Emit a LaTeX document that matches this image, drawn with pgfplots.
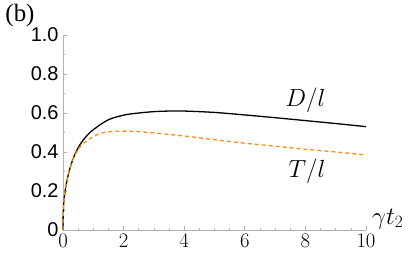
\documentclass[border=0pt]{standalone}
\usepackage{pgfplots}
\pgfplotsset{compat=1.18}
\usepackage{fontspec}
\setmainfont{Liberation Serif}
\newfontfamily\ticks{Liberation Sans}
\definecolor{axgray}{RGB}{178,178,178}
\definecolor{myorange}{RGB}{255,140,20}
\begin{document}
\begin{tikzpicture}[x=1bp,y=1bp]
\begin{axis}[
  scale only axis, width=303bp, height=195bp,
  xmin=0, xmax=10, ymin=0, ymax=1,
  axis lines*=left,
  axis line style={axgray, line width=0.8bp},
  xtick={0,2,...,10}, ytick={0,0.2,...,1.0},
  minor x tick num=3, minor y tick num=1,
  tick style={axgray, line width=0.6bp},
  major tick length=4bp, minor tick length=2.5bp,
  tick align=inside,
  yticklabels={0,0.2,0.4,0.6,0.8,1.0},
  xticklabel style={font=\ticks\fontsize{20}{20}\selectfont, yshift=-1bp},
  yticklabel style={font=\ticks\fontsize{20}{20}\selectfont, xshift=-1bp},
  clip=false,
]
\addplot[black, line width=1.3bp, smooth] coordinates {
(0,0) (0.005,0.07) (0.015,0.11) (0.03,0.15) (0.09,0.22) (0.2,0.30) (0.36,0.376) (0.59,0.445) (0.92,0.504) (1.48,0.564) (2.03,0.59) (2.5,0.60) (3,0.607) (3.5,0.61) (4,0.61) (5,0.603) (6,0.59) (7,0.576) (8,0.561) (9,0.546) (10,0.53)};
\addplot[myorange, line width=1.3bp, dash pattern=on 4bp off 3bp, smooth] coordinates {
(0,0) (0.005,0.07) (0.015,0.11) (0.03,0.15) (0.09,0.22) (0.2,0.30) (0.36,0.374) (0.59,0.432) (0.81,0.46) (1.14,0.49) (1.48,0.503) (2.03,0.507) (2.5,0.504) (3,0.498) (4,0.482) (5,0.463) (6,0.445) (7,0.43) (8,0.414) (9,0.40) (10,0.385)};
\node[font=\fontsize{25}{25}\selectfont] at (axis cs:8.0,0.667) {$D/l$};
\node[font=\fontsize{25}{25}\selectfont] at (axis cs:8.05,0.30) {$T/l$};
\node[font=\fontsize{25}{25}\selectfont, anchor=base west, inner sep=0pt] at (axis cs:10,0) [xshift=6bp, yshift=6bp] {$\gamma t_2$};
\end{axis}
\node[font=\fontsize{25}{25}\selectfont] at (-43,214) {(b)};
\path[use as bounding box] (-63,-24) rectangle (353,230);
\end{tikzpicture}
\end{document}
